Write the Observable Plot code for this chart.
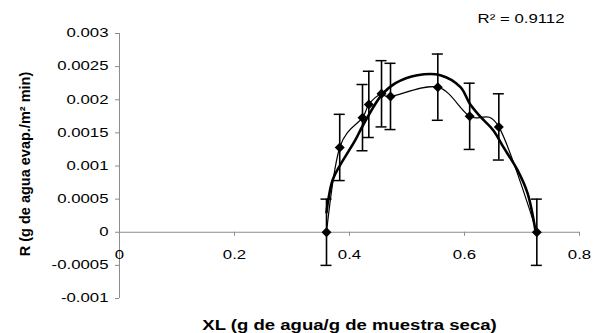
<!DOCTYPE html>
<html><head><meta charset="utf-8">
<script src="https://cdn.jsdelivr.net/npm/d3@7"></script>
<script src="https://cdn.jsdelivr.net/npm/@observablehq/plot@0.6"></script>
<style>body{margin:0;background:#fff} svg{display:block}</style>
</head><body><div id="chart"></div>
<script>
// Data
const xl = [0.36, 0.383, 0.4226, 0.4336, 0.4557, 0.4713, 0.5536, 0.609, 0.6597, 0.7258];
const rate = [0, 0.00128, 0.00173, 0.00193, 0.00209, 0.00205, 0.00219, 0.00175, 0.00159, 0];
const errBar = [0.0005, 0.0005, 0.0005, 0.0005, 0.0005, 0.0005, 0.0005, 0.0005, 0.0005, 0.0005];
// Polynomial trendline
const trendX = [0.36, 0.3635, 0.372, 0.41, 0.4226, 0.4557, 0.48, 0.518, 0.558, 0.593, 0.6092, 0.628, 0.65, 0.668, 0.692, 0.7096, 0.7235];
const trendY = [0.0003, 0.00051, 0.00082, 0.00139, 0.0016, 0.00207, 0.00225, 0.00237, 0.00237, 0.00219, 0.00194, 0.00174, 0.00154, 0.00128, 0.00094, 0.00059, 0.00002];
const xTicks = [0, 0.2, 0.4, 0.6, 0.8];
const xTickLabels = ["0", "0.2", "0.4", "0.6", "0.8"];
const yTicks = [-0.001, -0.0005, 0, 0.0005, 0.001, 0.0015, 0.002, 0.0025, 0.003];
const yTickLabels = ["-0.001", "-0.0005", "0", "0.0005", "0.001", "0.0015", "0.002", "0.0025", "0.003"];
const r2Label = "R\u00B2 = 0.9112";
const xTitle = "XL (g de agua/g de muestra seca)";
const yTitle = "R (g de agua evap./m\u00B2 min)";

const pts = xl.map((x, i) => ({x, y: rate[i], lo: rate[i] - errBar[i], hi: rate[i] + errBar[i]}));
const trend = trendX.map((x, i) => ({x, y: trendY[i]}));
const axisColor = "#8c8c8c";

const plot = Plot.plot({
  width: 602, height: 333,
  marginLeft: 119, marginRight: 23, marginTop: 33, marginBottom: 35,
  x: {domain: [0, 0.8], axis: null},
  y: {domain: [-0.001, 0.003], axis: null},
  style: {fontFamily: "'Liberation Sans', Arial, sans-serif", fontSize: "12px", color: "#000", background: "#fff"},
  marks: [
    // axes
    Plot.ruleX([0], {y1: -0.001, y2: 0.003, stroke: axisColor}),
    Plot.ruleY(yTicks, {y: d => d, x1: 0, x2: 0, insetLeft: -4, stroke: axisColor}),
    Plot.text(yTicks, {x: 0, y: d => d, text: (d, i) => yTickLabels[i], textAnchor: "end", dx: -11, fill: "#000", className: "s14"}),
    Plot.ruleY([0], {x1: 0, x2: 0.8, stroke: axisColor}),
    Plot.ruleX(xTicks, {x: d => d, y1: 0, y2: 0, insetBottom: -4, stroke: axisColor}),
    Plot.text(xTicks, {x: d => d, y: 0, text: (d, i) => xTickLabels[i], dy: 27, lineAnchor: "bottom", fill: "#000", className: "s14"}),
    // error bars
    Plot.ruleX(pts, {x: "x", y1: "lo", y2: "hi", stroke: "#000", strokeWidth: 1.6}),
    Plot.ruleY(pts, {x1: "x", x2: "x", y: "hi", insetLeft: -5.5, insetRight: -5.5, stroke: "#000", strokeWidth: 1.5}),
    Plot.ruleY(pts, {x1: "x", x2: "x", y: "lo", insetLeft: -5.5, insetRight: -5.5, stroke: "#000", strokeWidth: 1.5}),
    // thin smoothed line through the data
    Plot.line(pts, {x: "x", y: "y", curve: "cardinal", stroke: "#000", strokeWidth: 1.2}),
    // thick trendline
    Plot.line(trend, {x: "x", y: "y", curve: "catmull-rom", stroke: "#000", strokeWidth: 2.6}),
    // markers
    Plot.dot(pts, {x: "x", y: "y", symbol: "diamond2", r: 4.5, fill: "#000", stroke: "none"}),
    // R² label
    Plot.text([r2Label], {frameAnchor: "top-right", dx: -15, dy: -11, lineAnchor: "bottom", textAnchor: "end", fill: "#000", className: "s14"}),
    // titles
    Plot.text([xTitle], {frameAnchor: "bottom", dy: 31, lineAnchor: "bottom", textAnchor: "middle", fontWeight: "bold", fontSize: 14.5, fill: "#000", className: "s13"}),
    Plot.text([yTitle], {frameAnchor: "left", rotate: -90, dx: -94, dy: -2, textAnchor: "middle", lineAnchor: "middle", fontWeight: "bold", fontSize: 14.5, fill: "#000"})
  ]
});
document.getElementById("chart").append(plot);

function stretch(cls, s) {
  plot.querySelectorAll("." + cls + " text").forEach(t => {
    const tr = t.getAttribute("transform") || "";
    if (tr.includes("rotate")) return;
    const x = +t.getAttribute("x") || 0;
    t.setAttribute("transform", `${tr} translate(${x},0) scale(${s},1) translate(${-x},0)`);
  });
}
stretch("s14", 1.4);
stretch("s13", 1.28);
</script>
</body></html>
